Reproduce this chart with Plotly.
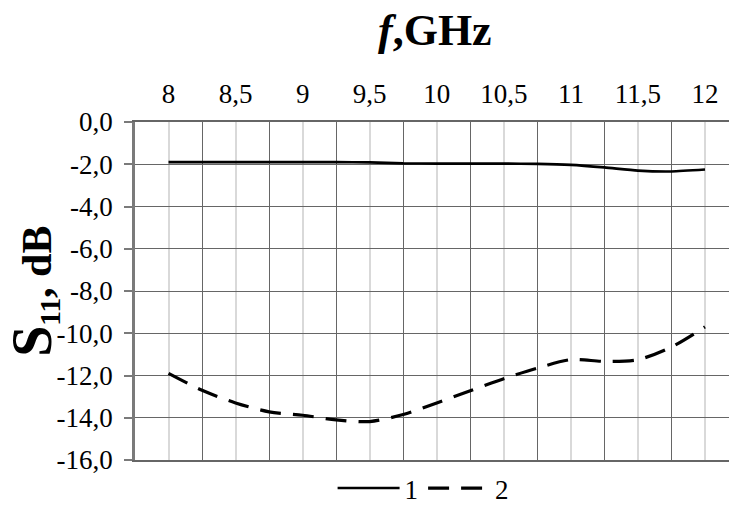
import plotly.graph_objects as go

# Frequency grid (GHz) for both measured curves
freq = [8.0, 8.25, 8.5, 8.75, 9.0, 9.25, 9.5, 9.75, 10.0,
        10.25, 10.5, 10.75, 11.0, 11.25, 11.5, 11.75, 12.0]

# Curve 1: S11, dB
s11_curve1 = [-1.90, -1.90, -1.90, -1.90, -1.90, -1.90, -1.91, -1.96, -1.97,
              -1.97, -1.97, -1.98, -2.03, -2.15, -2.30, -2.34, -2.25]

# Curve 2: S11, dB
s11_curve2 = [-11.9, -12.7, -13.3, -13.72, -13.88, -14.1, -14.18, -13.85, -13.3,
              -12.72, -12.15, -11.65, -11.25, -11.33, -11.25, -10.65, -9.7]

x_tickvals = [8, 8.5, 9, 9.5, 10, 10.5, 11, 11.5, 12]
x_ticktext = ["8", "8,5", "9", "9,5", "10", "10,5", "11", "11,5", "12"]
y_tickvals = [0, -2, -4, -6, -8, -10, -12, -14, -16]
y_ticktext = ["0,0", "-2,0", "-4,0", "-6,0", "-8,0", "-10,0", "-12,0", "-14,0", "-16,0"]

FONT = "Liberation Serif, Times New Roman, serif"
DARK = "#666666"
LIGHT = "#d9d9d9"

fig = go.Figure()
fig.add_trace(go.Scatter(
    x=freq, y=s11_curve1, name="1", mode="lines",
    line=dict(color="black", width=2.6, shape="spline", smoothing=0.6),
))
fig.add_trace(go.Scatter(
    x=freq, y=s11_curve2, name="2", mode="lines",
    line=dict(color="black", width=3.2, dash="21px,12px", shape="spline", smoothing=0.8),
))

fig.update_layout(
    width=729, height=513,
    margin=dict(l=135, r=0, t=122, b=45),
    paper_bgcolor="white", plot_bgcolor="white",
    font=dict(family=FONT, size=27, color="black"),
    showlegend=True,
    legend=dict(
        orientation="h", x=0.485, y=-0.085, xanchor="center", yanchor="middle",
        itemwidth=62, font=dict(size=27), bgcolor="rgba(0,0,0,0)",
        traceorder="normal",
    ),
    xaxis=dict(
        range=[7.75, 12.179], side="top",
        tickvals=x_tickvals, ticktext=x_ticktext,
        showgrid=True, gridcolor=LIGHT, gridwidth=2,
        minor=dict(tick0=7.75, dtick=0.5, showgrid=True, gridcolor=DARK, gridwidth=1.3),
        showline=True, mirror=True, linecolor=DARK, linewidth=1.5,
        ticks="", ticklabelstandoff=6, zeroline=False,
        tickfont=dict(size=27),
    ),
    yaxis=dict(
        range=[-16, 0], tickvals=y_tickvals, ticktext=y_ticktext,
        showgrid=True, gridcolor=DARK, gridwidth=1.3,
        showline=True, linecolor="#7a7a7a", linewidth=2.5,
        ticks="outside", ticklen=8, tickcolor="#7a7a7a", tickwidth=1.5,
        ticklabelstandoff=6, zeroline=False,
        tickfont=dict(size=27),
    ),
)

# Axis titles
fig.add_annotation(
    xref="paper", yref="paper", x=0.505, y=1.27, xanchor="center", yanchor="middle",
    text="<b><i>f</i>,GHz</b>", showarrow=False,
    font=dict(family=FONT, size=44, color="black"),
)
fig.add_annotation(
    xref="paper", yref="paper", x=-0.172, y=0.5, xanchor="center", yanchor="middle",
    text="<b><span style='font-size:56px'>S</span><sub>11</sub>, dB</b>", showarrow=False,
    textangle=-90, font=dict(family=FONT, size=42, color="black"),
)

fig.write_html("out.html")
